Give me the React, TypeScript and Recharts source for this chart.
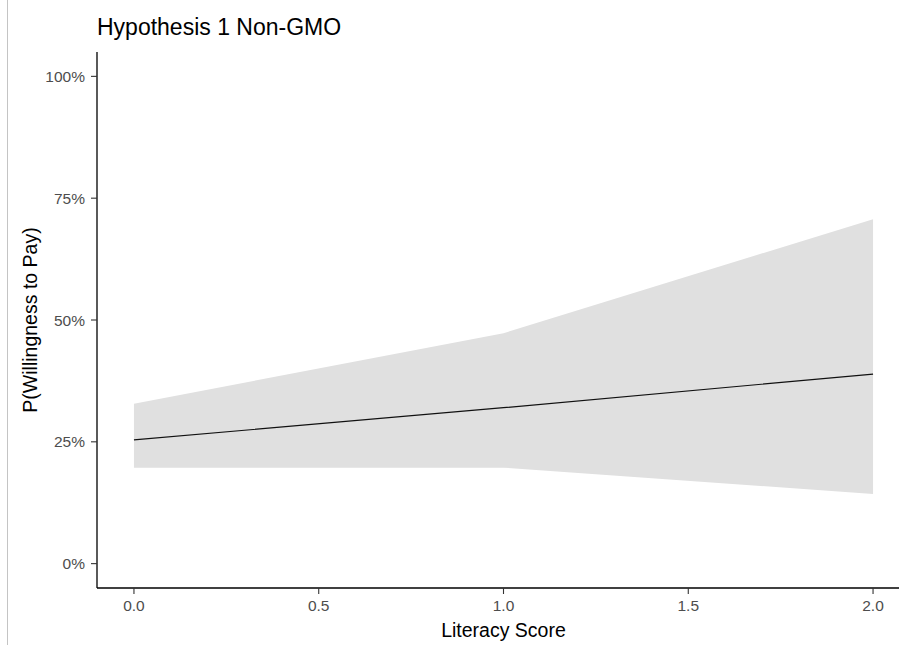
import React from 'react';
import { ComposedChart, Area, Line, XAxis, YAxis } from 'recharts';

// literacy score (x), predicted probability and its confidence band
const scores = [0, 1, 2];
const fitted = [0.254, 0.32, 0.389];
const lowerBound = [0.197, 0.197, 0.143];
const upperBound = [0.328, 0.473, 0.707];

const xTicks = [0, 0.5, 1, 1.5, 2];
const yTicks = [0, 0.25, 0.5, 0.75, 1];

const chartTitle = 'Hypothesis 1 Non-GMO';
const xTitle = 'Literacy Score';
const yTitle = 'P(Willingness to Pay)';

const FONT = '"Liberation Sans", Arial, sans-serif';

const data = scores.map((s, i) => ({
  score: s,
  fit: fitted[i],
  band: [lowerBound[i], upperBound[i]],
}));

const YTitle = (props: any) => {
  const { viewBox } = props;
  const cy = viewBox.y + viewBox.height / 2;
  return (
    <text
      x={22}
      y={cy}
      transform={`rotate(-90, 22, ${cy})`}
      textAnchor="middle"
      dominantBaseline="central"
      fontSize={19.5}
      fontFamily={FONT}
      fill="#000"
    >
      {yTitle}
    </text>
  );
};

const XTitle = (props: any) => {
  const { viewBox } = props;
  const cx = viewBox.x + viewBox.width / 2;
  return (
    <text
      x={cx}
      y={622}
      textAnchor="middle"
      dominantBaseline="central"
      fontSize={19.5}
      fontFamily={FONT}
      fill="#000"
    >
      {xTitle}
    </text>
  );
};

const tickStyle = { fontSize: 15.5, fontFamily: FONT, fill: '#4d4d4d' };

export default function App() {
  return (
    <div>
      <div style={{ position: 'absolute', left: 7, top: 0, width: 1, height: 645, background: '#c4c4c4' }} />
      <div
        style={{
          position: 'absolute',
          left: 8,
          top: 8,
          width: 891,
          height: 637,
          overflow: 'hidden',
          background: '#fff',
        }}
      >
        <div
          style={{
            position: 'absolute',
            left: 89,
            top: 6,
            fontSize: 23,
            fontFamily: FONT,
            color: '#000',
            whiteSpace: 'nowrap',
            zIndex: 2,
          }}
        >
          {chartTitle}
        </div>
        <ComposedChart
          width={920}
          height={637}
          data={data}
          margin={{ top: 44, right: 18, left: 0, bottom: 0 }}
        >
          <XAxis
            type="number"
            dataKey="score"
            domain={[-0.1, 2.1]}
            ticks={xTicks}
            allowDataOverflow
            tickFormatter={(v: number) => v.toFixed(1)}
            height={57}
            tickSize={6}
            tickMargin={6}
            tick={tickStyle}
            axisLine={{ stroke: '#000', strokeWidth: 1.3 }}
            tickLine={{ stroke: '#333', strokeWidth: 1.1 }}
            label={<XTitle />}
          />
          <YAxis
            type="number"
            domain={[-0.05, 1.05]}
            ticks={yTicks}
            allowDataOverflow
            tickFormatter={(v: number) => `${Math.round(v * 100)}%`}
            width={89}
            tickSize={6}
            tickMargin={6}
            tick={tickStyle}
            axisLine={{ stroke: '#000', strokeWidth: 1.3 }}
            tickLine={{ stroke: '#333', strokeWidth: 1.1 }}
            label={<YTitle />}
          />
          <Area
            type="linear"
            dataKey="band"
            stroke="none"
            fill="#e0e0e0"
            fillOpacity={1}
            isAnimationActive={false}
            activeDot={false}
          />
          <Line
            type="linear"
            dataKey="fit"
            stroke="#111"
            strokeWidth={1.2}
            dot={false}
            activeDot={false}
            isAnimationActive={false}
          />
        </ComposedChart>
      </div>
    </div>
  );
}
